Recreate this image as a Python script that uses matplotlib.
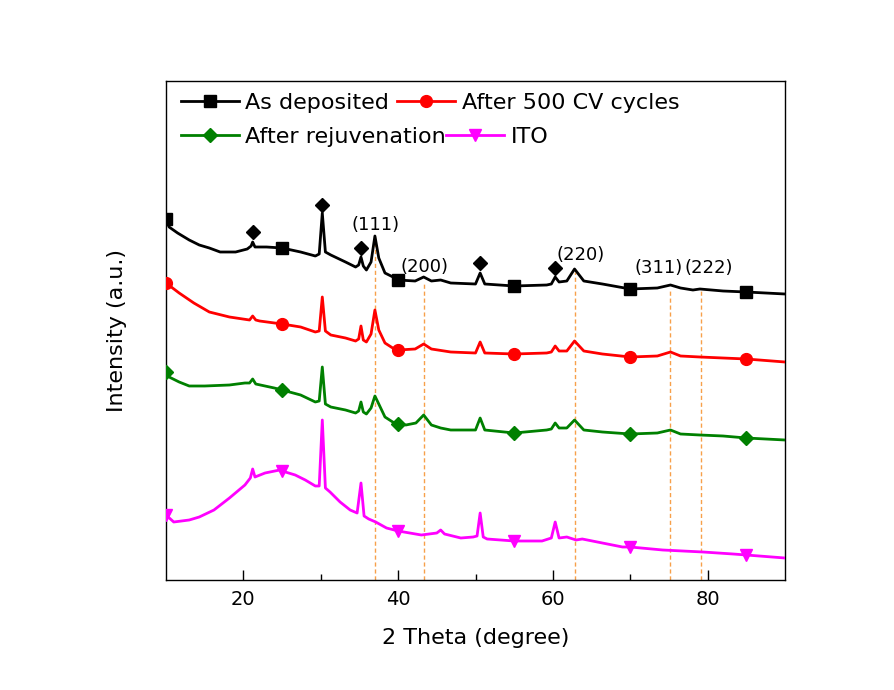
import matplotlib
matplotlib.use("Agg")
import matplotlib.pyplot as plt
import numpy as np

plt.rcParams['font.family'] = ['DejaVu Sans']

# ---- data (intensity in arbitrary units, offset curves) ----
x_dep = [10, 10.4, 11.5, 13, 14.3, 15.6, 17, 19, 20.5, 21.0, 21.2, 21.5, 23, 25, 27.4, 29.3, 29.8, 30.2, 30.6, 31.3,
         33.2, 34.5, 34.9, 35.2, 35.5, 35.9, 36.5, 37.0, 37.5, 38.3, 39.6, 40, 42.2, 43.3, 44.3, 45.5, 46.8, 50.0, 50.6, 51.2,
         55, 59.2, 59.8, 60.3, 60.8, 61.8, 62.8, 64.0, 66.4, 70, 73.5, 75.2, 76.5, 78.1, 79.0, 82, 85, 90]
y_dep = [361, 353, 347, 340, 335, 332, 328, 328, 331, 334, 338, 333, 333, 332, 328, 324, 326, 367, 328, 325,
         318, 313, 315, 323, 314, 310, 318, 344, 322, 307, 302, 300, 299, 303, 299, 300, 297, 296, 307, 296,
         294, 295, 296, 303, 298, 299, 311, 299, 296, 291, 292, 295, 292, 290, 291, 289, 288, 286]

x_cv = [10, 11.7, 13.6, 15.6, 18.2, 20.8, 21.2, 21.6, 22.1, 25, 27.4, 29.3, 29.8, 30.2, 30.6, 31.3, 33.2, 34.5, 34.9, 35.2,
        35.5, 35.9, 36.5, 37.0, 37.5, 38.3, 39.3, 40, 42.2, 43.3, 44.3, 46.8, 50.0, 50.6, 51.2, 55, 59.2, 59.8, 60.3, 60.8,
        61.8, 62.8, 64.0, 66.4, 70, 73.5, 75.2, 76.5, 79, 82, 85, 90]
y_cv = [297, 287, 277, 268, 263, 260, 264, 260, 259, 256, 253, 248, 249, 283, 249, 245, 242, 239, 241, 254,
        240, 238, 246, 270, 250, 237, 232, 230, 231, 236, 231, 228, 227, 238, 227, 226, 227, 228, 234, 229,
        229, 239, 229, 226, 223, 224, 228, 224, 223, 222, 221, 218]

x_rej = [10, 10.4, 11.7, 13, 15, 18.2, 20.2, 20.8, 21.2, 21.6, 24, 25, 27.4, 29.3, 29.8, 30.2, 30.6, 31.3, 33.2, 34.5,
         34.9, 35.2, 35.5, 35.9, 36.5, 37.0, 37.5, 38.3, 39.3, 40, 41, 42.3, 43.3, 44.3, 45.5, 46.8, 50, 50.6, 51.2, 55,
         59.2, 59.8, 60.3, 60.8, 61.8, 62.8, 64, 66.4, 70, 73.5, 75.2, 76.5, 79, 82, 85, 90]
y_rej = [208, 203, 198, 194, 194, 195, 197, 197, 201, 196, 192, 190, 185, 178, 179, 213, 176, 173, 170, 167,
         169, 178, 168, 166, 172, 184, 176, 163, 158, 156, 155, 157, 165, 155, 152, 150, 150, 162, 150, 147,
         150, 151, 157, 152, 152, 160, 150, 148, 146, 147, 150, 146, 145, 144, 142, 140]

x_ito = [10, 11, 13, 14.3, 16.2, 18.2, 20.2, 20.9, 21.2, 21.5, 22.8, 24.7, 25, 26.7, 28, 29.3, 29.8, 30.2, 30.6, 31.2,
         32.5, 33.8, 34.7, 35.2, 35.6, 36.2, 37.1, 38.5, 40, 43, 45.0, 45.5, 46.0, 48.1, 49.7, 50.2, 50.6, 51.0, 51.5, 55,
         58.6, 59.8, 60.3, 60.8, 61.8, 63, 63.8, 66.4, 69, 70, 74.2, 79.4, 83.3, 85, 90]
y_ito = [65, 58, 60, 63, 70, 82, 95, 102, 111, 103, 107, 110, 109, 105, 100, 94, 94, 160, 92, 88,
         78, 70, 67, 97, 64, 61, 58, 52, 49, 45, 47, 50, 46, 42, 43, 44, 67, 43, 41, 39,
         39, 42, 58, 42, 43, 40, 41, 37, 33, 33, 30, 28, 26, 25, 22]

marker_x = [10, 25, 40, 55, 70, 85]

# diamond-marked substrate peaks
sub_x = [21.2, 30.2, 35.2, 50.6, 60.3]
sub_y = [348, 375, 332, 317, 312]

# reflection reference lines
ref_x = [37.0, 43.3, 62.8, 75.1, 79.1]
ref_top = [343, 298, 308, 290, 289]

hkl_labels = ["(111)", "(200)", "(220)", "(311)", "(222)"]
hkl_x = [37.1, 43.4, 63.6, 73.7, 80.2]
hkl_y = [355, 313, 325, 312, 312]

series = [
    ("As deposited", x_dep, y_dep, "black", "s", 8),
    ("After 500 CV cycles", x_cv, y_cv, "#ff0000", "o", 8.5),
    ("After rejuvenation", x_rej, y_rej, "#008000", "D", 7),
    ("ITO", x_ito, y_ito, "#ff00ff", "v", 9),
]

fig = plt.figure(figsize=(8.94, 6.90), dpi=100)
ax = fig.add_axes([166/894, 1-580/690, (785-166)/894, (580-81)/690])

for xi, top in zip(ref_x, ref_top):
    ax.vlines(xi, 0, top, colors="#f7a04a", linestyles=(0, (3, 2)), linewidth=1.0, zorder=1)

handles = []
for name, xs, ys, col, mk, ms in series:
    idx = [xs.index(m) for m in marker_x]
    ln, = ax.plot(xs, ys, color=col, lw=2.0, marker=mk, markersize=ms, markevery=idx,
                  markeredgecolor=col, markerfacecolor=col, zorder=3, label=name)
    handles.append(ln)

ax.plot(sub_x, sub_y, linestyle="none", marker="D", markersize=7, color="black", zorder=4)

for lab, hx, hy in zip(hkl_labels, hkl_x, hkl_y):
    ax.text(hx, hy, lab, ha="center", va="center", fontsize=13)

ax.set_xlim(10, 90)
ax.set_ylim(0, 499)
ax.set_xticks([20, 40, 60, 80])
ax.set_xticks([30, 50, 70], minor=True)
ax.set_yticks([])
ax.tick_params(axis="x", which="major", direction="in", length=7, width=1, labelsize=14, pad=7)
ax.tick_params(axis="x", which="minor", direction="in", length=4, width=1)
for sp in ax.spines.values():
    sp.set_linewidth(1.0)

ax.set_xlabel("2 Theta (degree)", fontsize=16, labelpad=14)
ax.set_ylabel("Intensity (a.u.)", fontsize=16, labelpad=28)

leg1 = ax.legend(handles[:2], [h.get_label() for h in handles[:2]], ncol=2, frameon=False,
                 loc="center left", bbox_to_anchor=((181-166)/619, (580-103)/499),
                 borderpad=0, borderaxespad=0, handlelength=2.6, handletextpad=0.3,
                 columnspacing=0.35, fontsize=16)
ax.add_artist(leg1)
leg2 = ax.legend(handles[2:], [h.get_label() for h in handles[2:]], ncol=2, frameon=False,
                 loc="center left", bbox_to_anchor=((181-166)/619, (580-137)/499),
                 borderpad=0, borderaxespad=0, handlelength=2.6, handletextpad=0.3,
                 columnspacing=0.0, fontsize=16)

fig.savefig("out.png", dpi=100)
